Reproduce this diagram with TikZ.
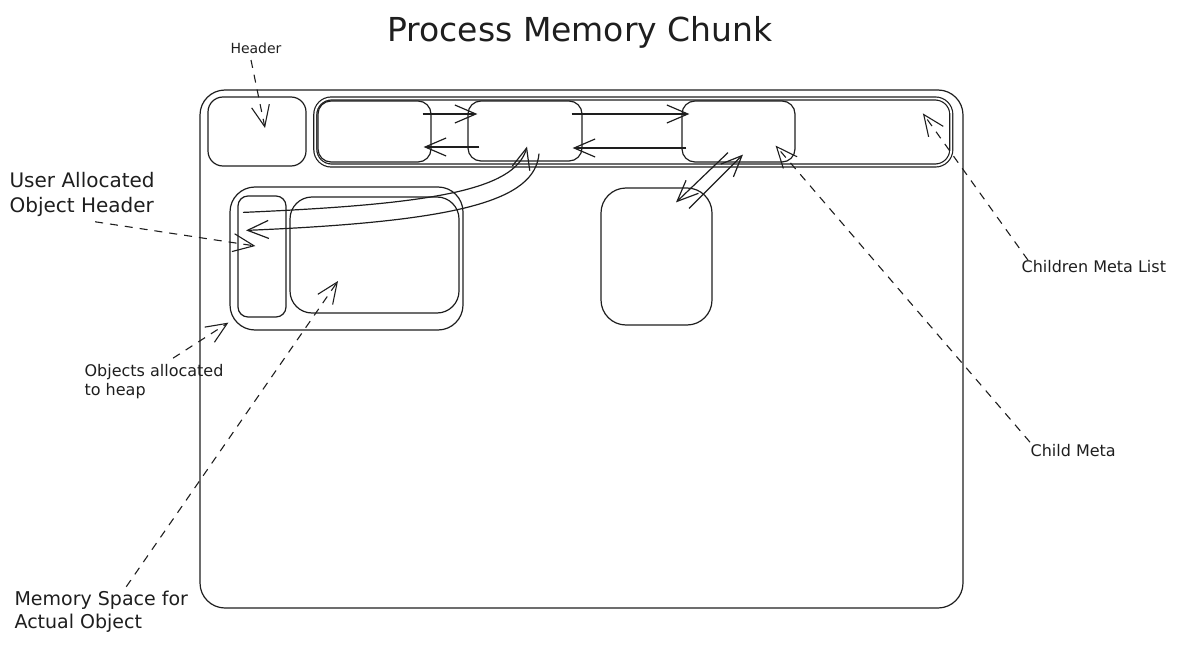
\documentclass[tikz,border=0pt]{standalone}
\usepackage{fontspec}
\setmainfont{DejaVu Sans}
\usetikzlibrary{arrows.meta}
\definecolor{ink}{HTML}{1E1E1E}

\begin{document}
\begin{tikzpicture}[x=1pt, y=-1pt, >={Straight Barb[length=21pt,width=18pt]}, line width=1.2pt, text=ink]
\tikzstyle{block}=[draw=ink, line width=1.2pt, inner sep=0pt, rectangle]
\tikzstyle{tag}=[inner sep=0pt, align=left, anchor=west]
\tikzstyle{link}=[->, draw=ink, line width=1.2pt]
\tikzstyle{pointer}=[->, draw=ink, line width=1.1pt, dash pattern=on 8pt off 7pt]
\useasboundingbox (0,0) rectangle (1177,647);

\node[block, rounded corners=25pt, minimum width=763pt, minimum height=518pt] (chunk) at (581.5,349) {};
\node[block, rounded corners=15pt, minimum width=98pt, minimum height=69pt] (hdr) at (257,131.5) {};
\node[block, double=white, double distance=1.8pt, rounded corners=16pt, minimum width=636pt, minimum height=67pt] (metalist) at (633.3,132) {};
\node[block, rounded corners=13pt, minimum width=113pt, minimum height=61pt] (metaA) at (374.5,131.5) {};
\node[block, rounded corners=13pt, minimum width=114pt, minimum height=60pt] (metaB) at (525,131) {};
\node[block, rounded corners=13pt, minimum width=113pt, minimum height=61pt] (metaC) at (738.5,131.5) {};
\node[block, rounded corners=25pt, minimum width=111pt, minimum height=137pt] (freeobj) at (656.5,256.5) {};
\node[block, rounded corners=25pt, minimum width=233pt, minimum height=143pt] (heap) at (346.5,258.5) {};
\node[block, rounded corners=10pt, minimum width=48pt, minimum height=121pt] (objhdr) at (262,256.5) {};
\node[block, rounded corners=22pt, minimum width=169pt, minimum height=116pt] (objmem) at (374.5,255) {};

\node[font=\fontsize{33}{36}\selectfont] (title) at (580,32) {Process Memory Chunk};
\node[inner sep=0pt, font=\fontsize{14}{16}\selectfont] (hdrtag) at (256,48) {Header};
\node[tag, font=\fontsize{20}{25}\selectfont] (uaoh) at (9,194) {User Allocated\\Object Header};
\node[tag, font=\fontsize{16}{19}\selectfont] (heaptag) at (84,382) {Objects allocated\\to heap};
\node[tag, font=\fontsize{19}{23}\selectfont] (memtag) at (14,612) {Memory Space for\\Actual Object};
\node[tag, font=\fontsize{16}{18}\selectfont] (listtag) at (1021,267) {Children Meta List};
\node[tag, font=\fontsize{16}{18}\selectfont] (childtag) at (1030,451) {Child Meta};

\draw[link] ([xshift=-9pt,yshift=17.5pt]metaA.east) -- ([xshift=10pt,yshift=17pt]metaB.west);
\draw[link] ([xshift=12pt,yshift=-16pt]metaB.west) -- ([xshift=-8pt,yshift=-15.5pt]metaA.east);
\draw[link] ([xshift=-11pt,yshift=17pt]metaB.east) -- ([xshift=8pt,yshift=17.5pt]metaC.west);
\draw[link] ([xshift=5pt,yshift=-16.5pt]metaC.west) -- ([xshift=-10pt,yshift=-17pt]metaB.east);
\draw[link] ([xshift=-10.5pt,yshift=10pt]metaC.south) -- ([xshift=19.5pt,yshift=-15pt]freeobj.north);
\draw[link] ([xshift=32.5pt,yshift=-21pt]freeobj.north) -- ([xshift=4.5pt,yshift=8pt]metaC.south);
\draw[link] ([xshift=-19pt,yshift=-17pt]objhdr.north) .. controls +(187,-8) and +(-12,44) .. ([xshift=2pt,yshift=15pt]metaB.south);
\draw[link] ([xshift=14pt,yshift=8pt]metaB.south) .. controls +(-4,47) and +(214,-9) .. ([xshift=-16pt,yshift=-35pt]objhdr.north);

\draw[pointer] ([xshift=-5pt,yshift=-6pt]hdrtag.south) -- ([xshift=8pt,yshift=3.5pt]hdr.center);
\draw[pointer] ([xshift=13pt,yshift=-5pt]uaoh.south) -- ([xshift=18pt,yshift=10.5pt]objhdr.west);
\draw[pointer] ([xshift=19pt,yshift=6pt]heaptag.north) -- ([xshift=-1pt,yshift=8pt]heap.south west);
\draw[pointer] ([xshift=25pt,yshift=4pt]memtag.north) -- ([xshift=-36.5pt,yshift=-26pt]objmem.center);
\draw[pointer] ([xshift=7pt]listtag.north west) -- ([xshift=-29pt,yshift=-15.5pt]metalist.north east);
\draw[pointer] ([xshift=0pt,yshift=2pt]childtag.north west) -- ([xshift=-20pt,yshift=17pt]metaC.south east);
\end{tikzpicture}
\end{document}
